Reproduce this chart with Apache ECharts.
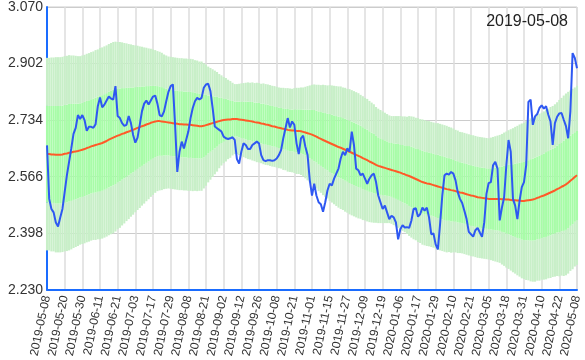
<!DOCTYPE html>
<html><head><meta charset="utf-8">
<script src="https://cdn.jsdelivr.net/npm/echarts@6/dist/echarts.min.js"></script>
<style>html,body{margin:0;padding:0;background:#fff}#c{width:585px;height:360px}</style>
</head><body><div id="c"></div>
<script>
// trading calendar
const startDate = '2019-05-08';
const endDate = '2020-05-08';
const closedDays = ['2019-07-04','2019-07-05','2019-08-15','2019-09-13','2019-09-16','2019-10-10','2019-10-28',
 '2019-11-11','2019-11-12','2019-12-24','2019-12-25','2019-12-26','2020-01-01','2020-01-10','2020-02-17',
 '2020-02-28','2020-03-09','2020-03-25','2020-04-30','2020-05-01','2020-05-04','2020-05-05'];
const titleText = '2019-05-08';
const yTicks = {min: 2.230, max: 3.070, step: 0.168};

const price = [
2.659,2.500,2.470,2.460,2.430,2.418,2.445,2.470,2.520,2.570,
2.610,2.650,2.693,2.711,2.749,2.737,2.749,2.734,2.702,2.714,
2.714,2.711,2.722,2.775,2.801,2.772,2.780,2.792,2.804,2.798,
2.795,2.835,2.746,2.740,2.725,2.717,2.720,2.746,2.725,2.690,
2.667,2.682,2.720,2.760,2.783,2.792,2.780,2.792,2.804,2.807,
2.783,2.749,2.745,2.760,2.790,2.818,2.835,2.840,2.720,2.580,
2.640,2.670,2.650,2.675,2.700,2.740,2.770,2.790,2.800,2.795,
2.800,2.830,2.840,2.842,2.820,2.770,2.715,2.710,2.705,2.700,
2.685,2.680,2.678,2.680,2.683,2.675,2.618,2.605,2.640,2.665,
2.660,2.648,2.648,2.660,2.665,2.670,2.665,2.630,2.615,2.612,
2.615,2.615,2.613,2.615,2.620,2.630,2.645,2.680,2.710,2.740,
2.712,2.730,2.720,2.665,2.633,2.680,2.688,2.655,2.630,2.555,
2.510,2.545,2.510,2.490,2.484,2.462,2.490,2.525,2.545,2.540,
2.560,2.575,2.590,2.620,2.640,2.630,2.650,2.640,2.700,2.660,
2.590,2.585,2.570,2.575,2.560,2.545,2.560,2.570,2.575,2.550,
2.510,2.490,2.470,2.480,2.460,2.440,2.450,2.445,2.430,2.380,
2.410,2.422,2.415,2.416,2.414,2.435,2.470,2.472,2.447,2.455,
2.474,2.465,2.474,2.445,2.395,2.397,2.365,2.350,2.425,2.510,
2.570,2.575,2.572,2.580,2.575,2.555,2.520,2.500,2.488,2.465,
2.440,2.402,2.395,2.388,2.407,2.414,2.400,2.387,2.430,2.515,
2.547,2.550,2.600,2.610,2.590,2.436,2.474,2.505,2.600,2.675,
2.640,2.500,2.480,2.440,2.495,2.535,2.550,2.600,2.788,2.795,
2.720,2.745,2.752,2.770,2.778,2.768,2.775,2.750,2.730,2.660,
2.725,2.744,2.754,2.755,2.735,2.716,2.680,2.760,2.933,2.919,
2.888];

const ma = [
2.633,2.633,2.632,2.632,2.631,2.631,2.631,2.632,2.634,2.635,
2.637,2.638,2.640,2.641,2.642,2.644,2.646,2.648,2.651,2.653,
2.656,2.658,2.660,2.662,2.664,2.666,2.669,2.672,2.676,2.679,
2.682,2.685,2.688,2.690,2.693,2.695,2.698,2.700,2.703,2.705,
2.708,2.711,2.713,2.716,2.718,2.721,2.723,2.726,2.728,2.730,
2.731,2.731,2.730,2.729,2.728,2.727,2.726,2.725,2.724,2.723,
2.722,2.722,2.721,2.721,2.720,2.720,2.719,2.718,2.717,2.716,
2.716,2.717,2.719,2.721,2.723,2.725,2.727,2.729,2.731,2.733,
2.734,2.735,2.736,2.736,2.737,2.737,2.737,2.736,2.735,2.734,
2.733,2.732,2.731,2.730,2.728,2.727,2.726,2.724,2.723,2.721,
2.720,2.718,2.716,2.715,2.713,2.711,2.710,2.708,2.707,2.705,
2.704,2.703,2.703,2.702,2.702,2.701,2.699,2.697,2.695,2.693,
2.691,2.688,2.685,2.681,2.678,2.675,2.672,2.669,2.666,2.663,
2.660,2.657,2.654,2.652,2.649,2.646,2.643,2.640,2.637,2.634,
2.631,2.628,2.625,2.621,2.618,2.615,2.611,2.608,2.605,2.601,
2.598,2.596,2.594,2.592,2.590,2.588,2.586,2.584,2.582,2.580,
2.578,2.575,2.573,2.570,2.568,2.565,2.562,2.559,2.556,2.553,
2.550,2.548,2.546,2.545,2.543,2.541,2.539,2.537,2.535,2.533,
2.531,2.529,2.528,2.526,2.525,2.523,2.521,2.519,2.518,2.516,
2.514,2.512,2.510,2.509,2.507,2.505,2.504,2.503,2.502,2.501,
2.500,2.500,2.500,2.500,2.500,2.500,2.499,2.499,2.498,2.498,
2.497,2.496,2.496,2.495,2.495,2.494,2.494,2.495,2.496,2.497,
2.498,2.500,2.503,2.505,2.508,2.510,2.513,2.516,2.519,2.522,
2.525,2.529,2.532,2.536,2.539,2.543,2.548,2.554,2.559,2.565,
2.570];

const sd = [
.143,.143,.144,.144,.145,.145,.145,.145,.145,.145,
.145,.144,.143,.142,.141,.140,.140,.140,.140,.140,
.140,.140,.141,.141,.142,.142,.142,.142,.142,.142,
.142,.141,.139,.138,.136,.134,.132,.130,.128,.126,
.124,.122,.120,.118,.116,.114,.112,.110,.108,.106,
.104,.103,.102,.100,.099,.098,.098,.098,.098,.098,
.098,.098,.098,.098,.098,.098,.098,.097,.097,.096,
.096,.093,.090,.086,.083,.080,.077,.074,.070,.067,
.064,.062,.059,.057,.054,.052,.052,.053,.054,.055,
.056,.057,.057,.058,.058,.059,.059,.059,.060,.060,
.060,.060,.060,.060,.060,.060,.060,.061,.061,.062,
.062,.062,.063,.064,.064,.065,.066,.068,.070,.072,
.074,.076,.077,.079,.080,.082,.083,.084,.086,.087,
.088,.089,.090,.091,.091,.092,.092,.093,.093,.093,
.093,.093,.092,.092,.091,.091,.090,.089,.088,.086,
.085,.084,.083,.082,.081,.080,.080,.081,.082,.083,
.084,.085,.086,.087,.089,.090,.091,.091,.092,.092,
.093,.093,.093,.093,.093,.093,.093,.094,.094,.094,
.094,.094,.093,.093,.092,.091,.091,.090,.090,.090,
.090,.090,.090,.090,.090,.090,.090,.090,.090,.090,
.090,.091,.092,.093,.094,.095,.097,.099,.101,.103,
.105,.107,.109,.111,.113,.115,.116,.118,.119,.121,
.122,.123,.123,.124,.124,.125,.126,.126,.127,.127,
.128,.129,.131,.132,.134,.135,.135,.134,.134,.133,
.133];

// build category list (weekdays minus closed days)
const dates = [];
(function(){
  const closed = new Set(closedDays);
  let d = new Date(startDate + 'T00:00:00Z');
  const e = new Date(endDate + 'T00:00:00Z');
  while (d <= e) {
    const s = d.toISOString().slice(0,10);
    const w = d.getUTCDay();
    if (w !== 0 && w !== 6 && !closed.has(s)) dates.push(s);
    d = new Date(d.getTime() + 86400000);
  }
})();

const bandBase = ma.map((m,i)=> +(m - 2*sd[i]).toFixed(4));
const bandOuter = sd.slice();
const bandInner = sd.map(s=> +(2*s).toFixed(4));

const chart = echarts.init(document.getElementById('c'), null, {renderer:'canvas'});
const FONT = 'Liberation Sans';
const light = '#c8efc8';
const bright = '#a8fca8';
chart.setOption({
  animation: false,
  backgroundColor: '#fff',
  title: {text: titleText, right: 12, top: 9, textStyle:{fontSize:16, fontWeight:'normal', color:'#222', fontFamily: FONT}},
  grid: {left: 47, right: 8, top: 6, bottom: 64, show: true, borderColor: '#ccc', borderWidth: 1},
  xAxis: {
    type: 'category', data: dates, boundaryGap: false,
    axisLine: {lineStyle: {color: '#1a6cff', width: 2}},
    axisTick: {show: false},
    axisLabel: {interval: 7, rotate: 78, fontSize: 12, color: '#333', margin: 6, fontFamily: FONT},
    splitLine: {show: true, interval: 7, lineStyle: {color: '#ddd', width: 1.5}}
  },
  yAxis: {
    type: 'value', min: yTicks.min, max: yTicks.max, interval: yTicks.step,
    axisLine: {show: true, lineStyle: {color: '#1a6cff', width: 2}},
    axisTick: {show: false},
    axisLabel: {formatter: v => v.toFixed(3), fontSize: 14, color: '#333', margin: 4, fontFamily: FONT},
    splitLine: {show: true, lineStyle: {color: '#ccc', width: 1}}
  },
  series: [
    {type:'bar', stack:'band', data: bandBase, itemStyle:{color:'rgba(0,0,0,0)'}, barCategoryGap:'5%', silent:true},
    {type:'bar', stack:'band', data: bandOuter, itemStyle:{color: light}, silent:true},
    {type:'bar', stack:'band', data: bandInner, itemStyle:{color: bright}, silent:true},
    {type:'bar', stack:'band', data: bandOuter, itemStyle:{color: light}, silent:true},
    {type:'line', data: ma, showSymbol:false, lineStyle:{color:'#ff5a28', width:2}, z:3},
    {type:'line', data: price, showSymbol:false, lineStyle:{color:'#2e58f2', width:2}, z:4}
  ]
});
</script></body></html>
